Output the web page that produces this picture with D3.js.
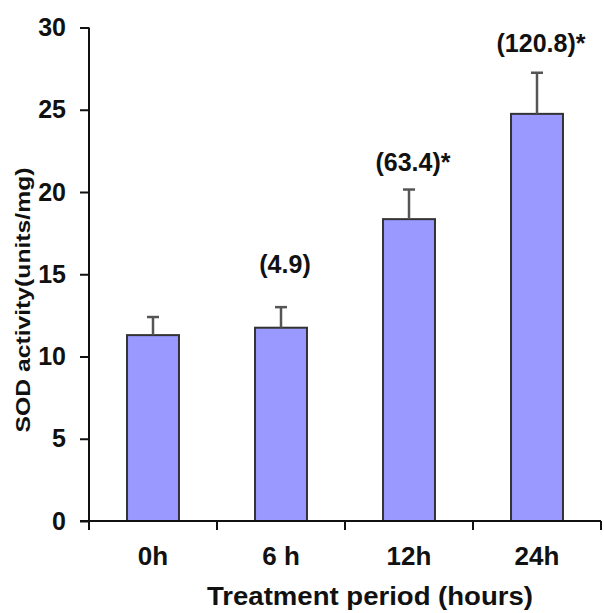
<!DOCTYPE html>
<html>
<head>
<meta charset="utf-8">
<script src="https://cdn.jsdelivr.net/npm/d3@7"></script>
<style>
  body { margin: 0; background: #fff; }
  text { font-family: "Liberation Sans", Arial, sans-serif; font-weight: bold; fill: #111; }
</style>
</head>
<body>
<div id="chart"></div>
<script>
// Data
const categories = ['0h', '6 h', '12h', '24h'];
const means = [11.3, 11.75, 18.35, 24.75];
const errors = [1.1, 1.25, 1.8, 2.5];
const notes = [null, '(4.9)', '(63.4)*', '(120.8)*'];
const noteLevel = [null, 15.1, 21.3, 28.5]; // baseline of each note, in y units
const yTicks = [0, 5, 10, 15, 20, 25, 30];

let
w = 604, h = 613,
plotL = 89, plotR = 601, plotT = 27.5, plotB = 521,
barColor = '#9999ff',

svg = d3.select('#chart').append('svg')
  .attr('width', w).attr('height', h),

x = d3.scaleBand().domain(categories).range([plotL, plotR])
  .paddingInner(0.594).paddingOuter(0.297),

y = d3.scaleLinear().domain([0, 30]).range([plotB, plotT]);

let gap = (x.step() - x.bandwidth()) / 2;
let cx = i => x(categories[i]) + x.bandwidth() / 2;

// Bars
svg.selectAll('rect.bar').data(means).enter().append('rect')
  .attr('class', 'bar')
  .attr('x', (d, i) => x(categories[i]))
  .attr('y', d => y(d))
  .attr('width', x.bandwidth())
  .attr('height', d => y(0) - y(d))
  .attr('fill', barColor)
  .attr('stroke', '#333')
  .attr('stroke-width', 2);

// Error bars (upper half only)
svg.selectAll('line.err').data(means).enter().append('line')
  .attr('x1', (d, i) => cx(i)).attr('x2', (d, i) => cx(i))
  .attr('y1', d => y(d)).attr('y2', (d, i) => y(d + errors[i]))
  .attr('stroke', '#555').attr('stroke-width', 2.5);
svg.selectAll('line.cap').data(means).enter().append('line')
  .attr('x1', (d, i) => cx(i) - 6).attr('x2', (d, i) => cx(i) + 6)
  .attr('y1', (d, i) => y(d + errors[i])).attr('y2', (d, i) => y(d + errors[i]))
  .attr('stroke', '#555').attr('stroke-width', 2.5);

// Y axis
let yAxis = d3.axisLeft(y).tickValues(yTicks).tickSize(9).tickSizeOuter(0).tickPadding(14);
let gy = svg.append('g').attr('transform', 'translate(' + plotL + ',0)').call(yAxis);
gy.select('.domain').remove();
gy.selectAll('.tick line').attr('stroke', '#111').attr('stroke-width', 2);
gy.selectAll('.tick text').style('font-size', '25px').attr('fill', '#111')
  .style('font-family', '"Liberation Sans", Arial, sans-serif');
svg.append('line')
  .attr('x1', plotL).attr('x2', plotL).attr('y1', y(30)).attr('y2', y(0) + 9)
  .attr('stroke', '#111').attr('stroke-width', 2);

// X axis: baseline plus ticks between categories
svg.append('line')
  .attr('x1', plotL - 9).attr('x2', plotR).attr('y1', y(0)).attr('y2', y(0))
  .attr('stroke', '#111').attr('stroke-width', 2);
let bounds = categories.map(c => x(c) - gap).concat([plotR]);
svg.selectAll('line.xt').data(bounds).enter().append('line')
  .attr('x1', d => d).attr('x2', d => d)
  .attr('y1', y(0)).attr('y2', y(0) + 9)
  .attr('stroke', '#111').attr('stroke-width', 2);
svg.selectAll('text.cat').data(categories).enter().append('text')
  .attr('x', (d, i) => cx(i))
  .attr('y', 565)
  .attr('text-anchor', 'middle')
  .style('font-size', '26px')
  .text(d => d);

// Notes above bars
notes.forEach((n, i) => {
  if (!n) return;
  svg.append('text')
    .attr('x', cx(i) + 4)
    .attr('y', y(noteLevel[i]))
    .attr('text-anchor', 'middle')
    .style('font-size', '25px')
    .text(n);
});

// Axis titles
svg.append('text')
  .attr('x', 370).attr('y', 605)
  .attr('text-anchor', 'middle')
  .attr('textLength', 326).attr('lengthAdjust', 'spacingAndGlyphs')
  .style('font-size', '25px')
  .text('Treatment period (hours)');

svg.append('text')
  .attr('transform', 'translate(30,300) rotate(-90)')
  .attr('text-anchor', 'middle')
  .attr('textLength', 265).attr('lengthAdjust', 'spacingAndGlyphs')
  .style('font-size', '21px')
  .text('SOD activity(units/mg)');
</script>
</body>
</html>
